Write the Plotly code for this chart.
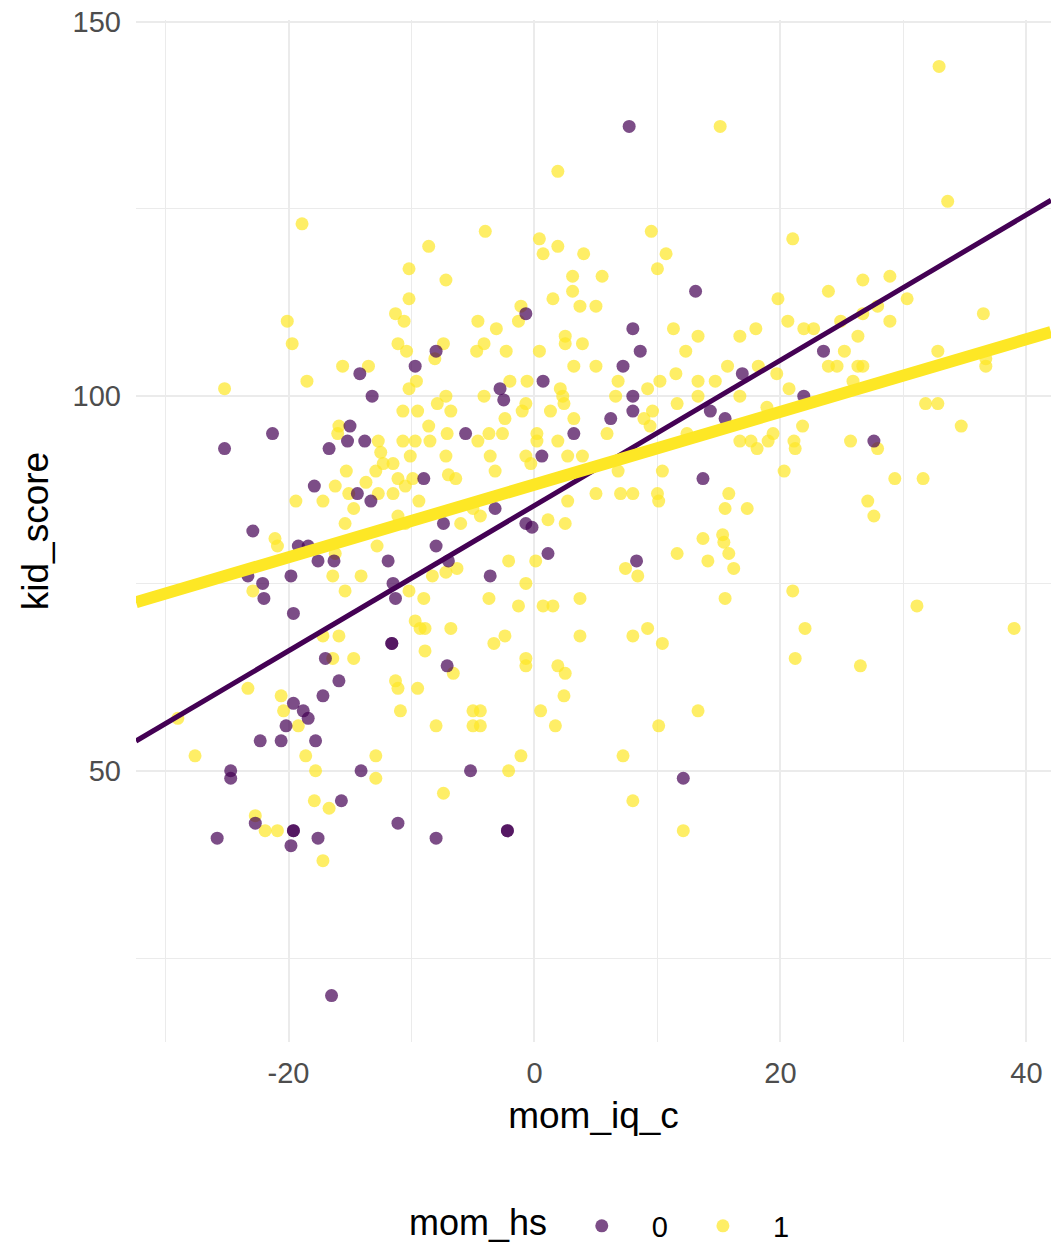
import plotly.graph_objects as go

# mom_hs = 0 (purple)
x0 = [7.7, 13.1, 8.0, 8.6, 7.2, 0.7, -2.8, -2.5, -0.7, 8.0, 8.0, 6.2, -5.6, 3.2, 0.6, 13.7, 14.3, 15.5,
      16.9, -8.0, -7.4, -0.7, -3.2, -0.2, 23.5, 21.9, 27.6, -14.2, -9.7, -13.2, -21.3, -25.2, -15.0,
      -15.2, -13.8, -16.7, -9.0, -17.9, -14.4, -13.3, -22.9, -19.2, -18.4, -17.6, -16.3, -23.3, -22.1,
      -22.0, -19.8, -19.6, -11.9, -11.5, -11.3, -8.0, -11.6, -11.6, -17.0, -15.9, -17.2, -19.6, -18.8,
      -18.4, -20.2, -22.3, -20.6, -17.8, -24.7, -14.1, -24.7, -25.8, -22.7, -19.6, -19.6, -19.8, -17.6,
      -15.7, -11.1, -8.0, -16.5, -2.2, -2.2, -5.2, 12.1, 1.1, -3.6, -7.0, 8.3, -7.1]
y0 = [136, 114, 109, 106, 104, 102, 101, 99.5, 111, 100, 98, 97, 95, 95, 92, 89, 98, 97,
      103, 106, 83, 83, 85, 82.5, 106, 100, 94, 103, 104, 100, 95, 93, 96,
      94, 94, 93, 89, 88, 87, 86, 82, 80, 80, 78, 78, 76, 75,
      73, 76, 71, 78, 75, 73, 80, 67, 67, 65, 62, 60, 59, 58,
      57, 56, 54, 54, 54, 50, 50, 49, 41, 43, 42, 42, 40, 41,
      46, 43, 41, 20, 42, 42, 50, 49, 79, 76, 78, 78, 64]

# mom_hs = 1 (yellow)
x1 = [-18.9, -8.6, -10.2, 1.9, 15.1, -4.0, 0.4, 0.7, 1.9, 4.0, 9.5, 10.7, 10.0, 3.1, 5.5, -7.2, 32.9, 33.6,
      21.0, 26.7, 28.9,
      -10.2, -11.3, -10.6, -20.1, -19.7, -11.1, -10.4, -8.1, -15.6, -13.5, -18.5, -25.2, -9.6, -10.2,
      -7.9, -10.7, -9.5, -15.9, -8.6, -16.0, -12.7, -10.7, -9.7, -8.5, -12.5, -12.3, -11.5, -10.1, -12.9,
      -15.3, -11.1, -9.9, -16.2, -15.1, -13.7, -12.7, -11.5, -10.5, -17.2, -19.4, -9.4, -14.7, -15.4,
      -11.1, -10.5,
      3.1, 1.5, 3.7, 5.0, -1.1, -1.3, -4.6, -3.1, -4.1, -4.7, -2.3, -7.4, 0.4, 2.5, 2.5, 3.9, 11.3, 13.3,
      12.3, 3.2, 5.0, 6.8, 15.7, 16.7, -2.0, -0.6, 2.1, -4.1, -7.2, -6.8, 6.6, 9.2, 10.2, 11.5, 13.3,
      14.7, 11.6, 13.3, 16.7, -0.7, -1.0, 1.3, 2.4, 2.3, -2.4, 3.2, 9.6, 8.9, 9.4, -7.1, -4.6, -3.7,
      -2.6, 0.2, 0.2, 1.9, 5.9, 12.4, 16.7, -7.2, -3.6, -0.7, -0.3, 2.7, 3.9, -7.0, -6.4, -3.2, 6.8,
      10.4, 5.0, 7.0, 8.0, 10.0, 10.1, 15.8, 15.5, 2.7, -5.0, -6.0, -4.4, 1.1, 2.5,
      23.9, 19.8, 30.3, 27.9, 36.5, 18.0, 20.6, 21.9, 22.7, 24.9, 26.7, 28.9, 26.3, 25.2, 18.2, 19.7,
      20.7, 23.9, 24.6, 26.3, 26.7, 25.9, 32.8, 36.7, 36.7, 31.8, 32.8, 34.7, 21.8, 18.9, 19.4, 17.6,
      18.1, 19.0, 21.1, 21.2, 25.7, 27.9, 20.3, 29.3, 31.6, 27.1, 27.6, 17.3,
      -21.1, -20.9, -16.2, -12.8, -16.4, -14.1, -15.4, -10.2, -9.0, -22.9, -8.3, -9.7, -8.9, -9.3,
      -8.9, -17.2, -15.9, -16.4, -14.7, -11.3, -11.1, -9.5, -23.3, -20.6, -20.4, -19.2, -18.6, -29.0,
      -27.6, -17.8, -12.9, -12.9, -10.9, -8.0,
      15.3, 15.4, 13.7, 11.6, 14.1, 15.8, 16.2, 15.5, 7.4, 8.4, -2.1, 0.1, -0.7, -3.7, -1.3, 0.7, 1.5,
      3.7, -6.8, -3.3, -2.4, 3.7, 8.0, 9.2, 10.4, -0.7, -0.7, 1.9, 2.5, -6.6, 2.4, -5.0, -4.4, -5.0,
      -4.4, 0.5, 1.7, -1.1, -2.1, 7.2, 10.1, 13.3, -7.2, -6.3,
      21.0, 22.0, 21.2, 26.5, 31.1, 39.0,
      -22.7, -21.9, -20.9, -17.9, -16.7, -17.2, -7.4, 8.0, 12.1]
y1 = [123, 120, 117, 130, 136, 122, 121, 119, 120, 119, 122, 119, 117, 116, 116, 115.5, 144, 126,
      121, 115.5, 116,
      113, 111, 110, 110, 107, 107, 106, 105, 104, 104, 102, 101, 102, 101,
      99, 98, 98, 96, 96, 95, 94, 94, 94, 94, 92.5, 91, 91, 92, 90,
      90, 89, 89, 88, 87, 88.5, 87, 87, 88, 86, 86, 86, 85, 83,
      84, 83,
      114, 113, 112, 112, 112, 110, 110, 109, 107, 106, 106, 107, 106, 108, 107, 107, 109, 108,
      106, 104, 104, 102, 104, 108, 102, 102, 101, 100, 100, 98, 100, 101, 102, 103, 102,
      102, 99, 100, 100, 99, 98, 98, 99, 100, 97, 97, 98, 97, 96, 95, 94, 95,
      95, 95, 94, 94, 95, 95, 94, 92, 92, 92, 91, 92, 92, 89.5, 89, 90, 90,
      90, 87, 87, 87, 87, 86, 87, 85, 86, 85, 83, 84, 83.5, 83,
      114, 113, 113, 112, 111, 109, 110, 109, 109, 110, 111, 110, 108, 106, 104, 103,
      101, 104, 104, 104, 104, 102, 106, 104, 105, 99, 99, 96, 96, 98.5, 95, 94,
      93, 94, 94, 93, 94, 93, 90, 89, 89, 86, 84, 85,
      81, 80, 79, 80, 76, 76, 74, 74, 73, 74, 76, 70, 69, 69,
      66, 68, 68, 65, 65, 62, 61, 61, 61, 60, 58, 56, 52, 57,
      52, 50, 52, 49, 58, 56,
      81.5, 80.5, 81, 79, 78, 79, 77, 73, 77, 76, 78, 78, 75, 73, 72, 72, 72,
      73, 69, 67, 68, 68, 68, 69, 67, 65, 64, 64, 63, 63, 60, 58, 58, 56,
      56, 58, 56, 52, 50, 52, 56, 58, 76.5, 77,
      74, 69, 65, 64, 72, 69,
      44, 42, 42, 46, 45, 38, 47, 46, 42]

# fitted lines (intercept, slope) per group
groups = ["0", "1"]
legend_title = "mom_hs"
intercepts = [85.4, 88.2]
slopes = [0.97, 0.485]
line_widths = [5, 12]
colors = ["#440154", "#FDE725"]

x_range = [-32.4, 42.0]
y_range = [13.8, 150.2]

FONT = "Liberation Sans, Arial, sans-serif"
TITLE_SIZE = 37
TICK_SIZE = 29

fig = go.Figure()

fig.add_trace(go.Scatter(x=x1, y=y1, mode="markers", name=groups[1], legendrank=2,
                         marker=dict(color=colors[1], size=13, opacity=0.7, line=dict(width=0))))
fig.add_trace(go.Scatter(x=x0, y=y0, mode="markers", name=groups[0], legendrank=1,
                         marker=dict(color=colors[0], size=13, opacity=0.7, line=dict(width=0))))

for g, b0, b1, w, c in zip(groups, intercepts, slopes, line_widths, colors):
    xs = [x_range[0], x_range[1]]
    ys = [b0 + b1 * v for v in xs]
    fig.add_trace(go.Scatter(x=xs, y=ys, mode="lines", showlegend=False,
                             line=dict(color=c, width=w), hoverinfo="skip"))

# legend title as an annotation so it lines up vertically with the items
fig.add_annotation(text=legend_title, xref="paper", yref="paper", x=0.3743, y=-0.177,
                   xanchor="center", yanchor="middle", showarrow=False,
                   font=dict(size=36, color="black", family=FONT))

grid = "#EBEBEB"
fig.update_layout(
    width=1051, height=1246,
    margin=dict(l=136, r=0, t=20, b=204, autoexpand=False),
    paper_bgcolor="white", plot_bgcolor="white",
    font=dict(family=FONT, color="black"),
    legend=dict(orientation="h", x=0.4544, xanchor="left", y=-0.180, yanchor="middle",
                font=dict(size=TICK_SIZE, color="black"), itemwidth=90),
    xaxis=dict(range=x_range, tickmode="array", tickvals=[-20, 0, 20, 40],
               ticktext=["-20", "0", "20", "40"],
               showgrid=True, gridcolor=grid, gridwidth=2.2, zeroline=False, showline=False,
               ticks="", tickfont=dict(size=TICK_SIZE, color="#4D4D4D"), ticklabelstandoff=11,
               minor=dict(tickmode="array", tickvals=[-30, -10, 10, 30], showgrid=True,
                          gridcolor=grid, gridwidth=1.2),
               title=dict(text="mom_iq_c", font=dict(size=TITLE_SIZE, color="black"), standoff=14)),
    yaxis=dict(range=y_range, tickmode="array", tickvals=[50, 100, 150],
               ticktext=["50", "100", "150"],
               showgrid=True, gridcolor=grid, gridwidth=2.2, zeroline=False, showline=False,
               ticks="", tickfont=dict(size=TICK_SIZE, color="#4D4D4D"), ticklabelstandoff=14,
               minor=dict(tickmode="array", tickvals=[25, 75, 125], showgrid=True,
                          gridcolor=grid, gridwidth=1.2),
               title=dict(text="kid_score", font=dict(size=TITLE_SIZE, color="black"), standoff=12)),
)

fig.write_html("out.html")
